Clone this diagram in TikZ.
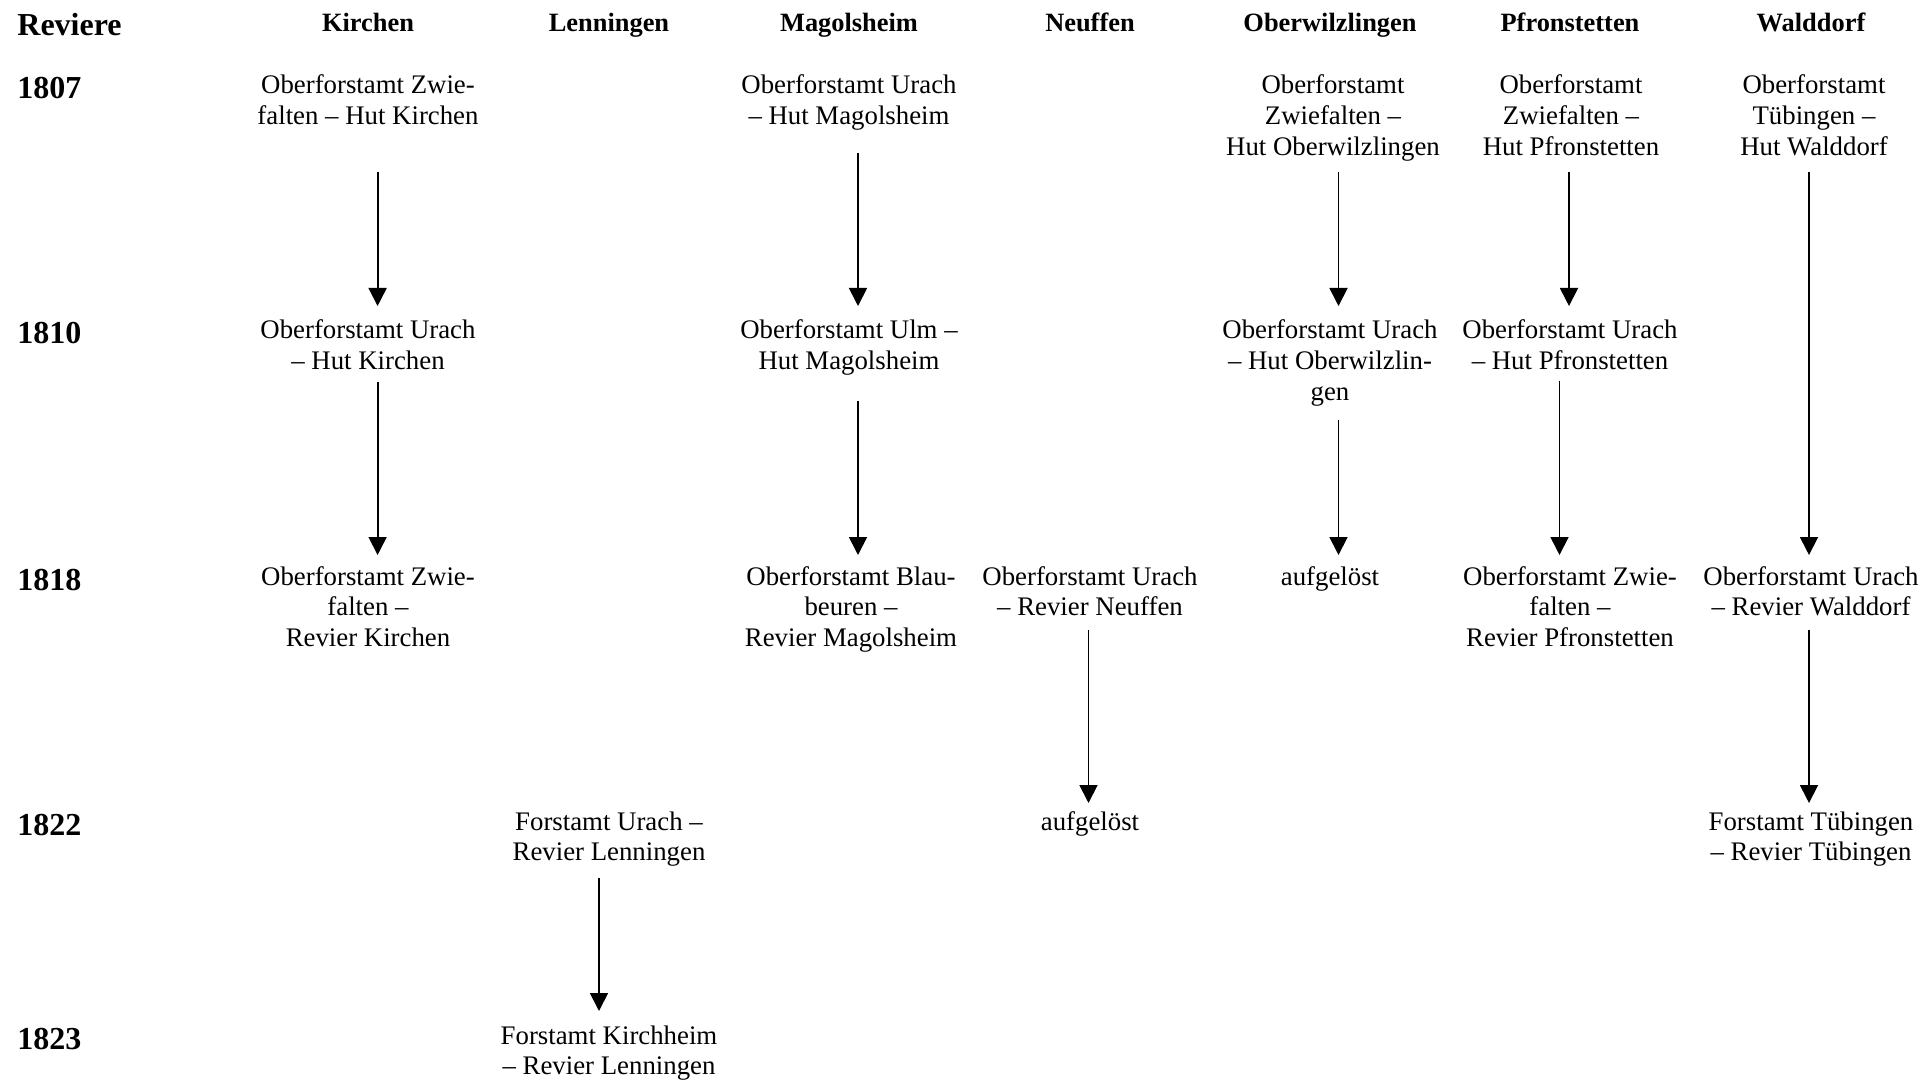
\documentclass[tikz,border=0pt]{standalone}
\usepackage{fontspec}
\setmainfont{Liberation Serif}
\usetikzlibrary{arrows.meta}
\tikzset{
  cell/.style={inner sep=0pt, anchor=base, align=center, font=\fontsize{13.4}{15.3}\selectfont},
  colhead/.style={inner sep=0pt, anchor=base, font=\fontsize{13.2}{15}\selectfont\bfseries},
  rowhead/.style={inner sep=0pt, anchor=base west, font=\fontsize{16}{18}\selectfont\bfseries},
  arr/.style={line width=0.9pt, -{Triangle[width=9pt,length=9pt]}}
}
\begin{document}
\begin{tikzpicture}[x=0.5pt,y=-0.5pt]
\path[use as bounding box] (0,0) rectangle (1922,1080);
% header row
\node[rowhead] (hrev) at (17,36) {Reviere};
\node[colhead] (hkir) at (368,32) {Kirchen};
\node[colhead] (hlen) at (609,32) {Lenningen};
\node[colhead] (hmag) at (849,32) {Magolsheim};
\node[colhead] (hneu) at (1090,32) {Neuffen};
\node[colhead] (hobe) at (1330,32) {Oberwilzlingen};
\node[colhead] (hpfr) at (1570,32) {Pfronstetten};
\node[colhead] (hwal) at (1811,32) {Walddorf};
% year labels
\node[rowhead] (y1807) at (17,99) {1807};
\node[rowhead] (y1810) at (17,344) {1810};
\node[rowhead] (y1818) at (17,590) {1818};
\node[rowhead] (y1822) at (17,835) {1822};
\node[rowhead] (y1823) at (17,1049) {1823};
% Kirchen (base anchor = last line's baseline)
\node[cell] (k1807) at (368,124.6) {Oberforstamt Zwie-\\falten – Hut Kirchen};
\node[cell] (k1810) at (368,369.6) {Oberforstamt Urach\\– Hut Kirchen};
\node[cell] (k1818) at (368,646.2) {Oberforstamt Zwie-\\falten –\\Revier Kirchen};
% Lenningen
\node[cell] (l1822) at (609,860.6) {Forstamt Urach –\\Revier Lenningen};
\node[cell] (l1823) at (609,1074.6) {Forstamt Kirchheim\\– Revier Lenningen};
% Magolsheim
\node[cell] (m1807) at (849,124.6) {Oberforstamt Urach\\– Hut Magolsheim};
\node[cell] (m1810) at (849,369.6) {Oberforstamt Ulm –\\Hut Magolsheim};
\node[cell] (m1818) at (851,646.2) {Oberforstamt Blau-\\beuren –\\Revier Magolsheim};
% Neuffen
\node[cell] (n1818) at (1090,615.6) {Oberforstamt Urach\\– Revier Neuffen};
\node[cell] (n1822) at (1090,830) {aufgelöst};
% Oberwilzlingen
\node[cell] (o1807) at (1333,155.2) {Oberforstamt\\Zwiefalten –\\Hut Oberwilzlingen};
\node[cell] (o1810) at (1330,400.2) {Oberforstamt Urach\\– Hut Oberwilzlin-\\gen};
\node[cell] (o1818) at (1330,585) {aufgelöst};
% Pfronstetten
\node[cell] (p1807) at (1571,155.2) {Oberforstamt\\Zwiefalten –\\Hut Pfronstetten};
\node[cell] (p1810) at (1570,369.6) {Oberforstamt Urach\\– Hut Pfronstetten};
\node[cell] (p1818) at (1570,646.2) {Oberforstamt Zwie-\\falten –\\Revier Pfronstetten};
% Walddorf
\node[cell] (w1807) at (1814,155.2) {Oberforstamt\\Tübingen –\\Hut Walddorf};
\node[cell] (w1818) at (1811,615.6) {Oberforstamt Urach\\– Revier Walddorf};
\node[cell] (w1822) at (1811,860.6) {Forstamt Tübingen\\– Revier Tübingen};
% arrow end points
\coordinate (ka1) at (377.6,172); \coordinate (kb1) at (377.6,306);
\coordinate (ka2) at (377.6,382); \coordinate (kb2) at (377.6,555);
\coordinate (la1) at (599,878);   \coordinate (lb1) at (599,1011);
\coordinate (ma1) at (858,153);   \coordinate (mb1) at (858,306);
\coordinate (ma2) at (858,401);   \coordinate (mb2) at (858,555);
\coordinate (na1) at (1088.5,630); \coordinate (nb1) at (1088.5,803);
\coordinate (oa1) at (1338.5,172); \coordinate (ob1) at (1338.5,306);
\coordinate (oa2) at (1338.5,420); \coordinate (ob2) at (1338.5,555);
\coordinate (pa1) at (1569,172);  \coordinate (pb1) at (1569,306);
\coordinate (pa2) at (1559.5,381); \coordinate (pb2) at (1559.5,555);
\coordinate (wa1) at (1809,172);  \coordinate (wb1) at (1809,555);
\coordinate (wa2) at (1809,630);  \coordinate (wb2) at (1809,803);
\draw[arr] (ka1) -- (kb1);
\draw[arr] (ka2) -- (kb2);
\draw[arr] (la1) -- (lb1);
\draw[arr] (ma1) -- (mb1);
\draw[arr] (ma2) -- (mb2);
\draw[arr] (na1) -- (nb1);
\draw[arr] (oa1) -- (ob1);
\draw[arr] (oa2) -- (ob2);
\draw[arr] (pa1) -- (pb1);
\draw[arr] (pa2) -- (pb2);
\draw[arr] (wa1) -- (wb1);
\draw[arr] (wa2) -- (wb2);
\end{tikzpicture}
\end{document}
